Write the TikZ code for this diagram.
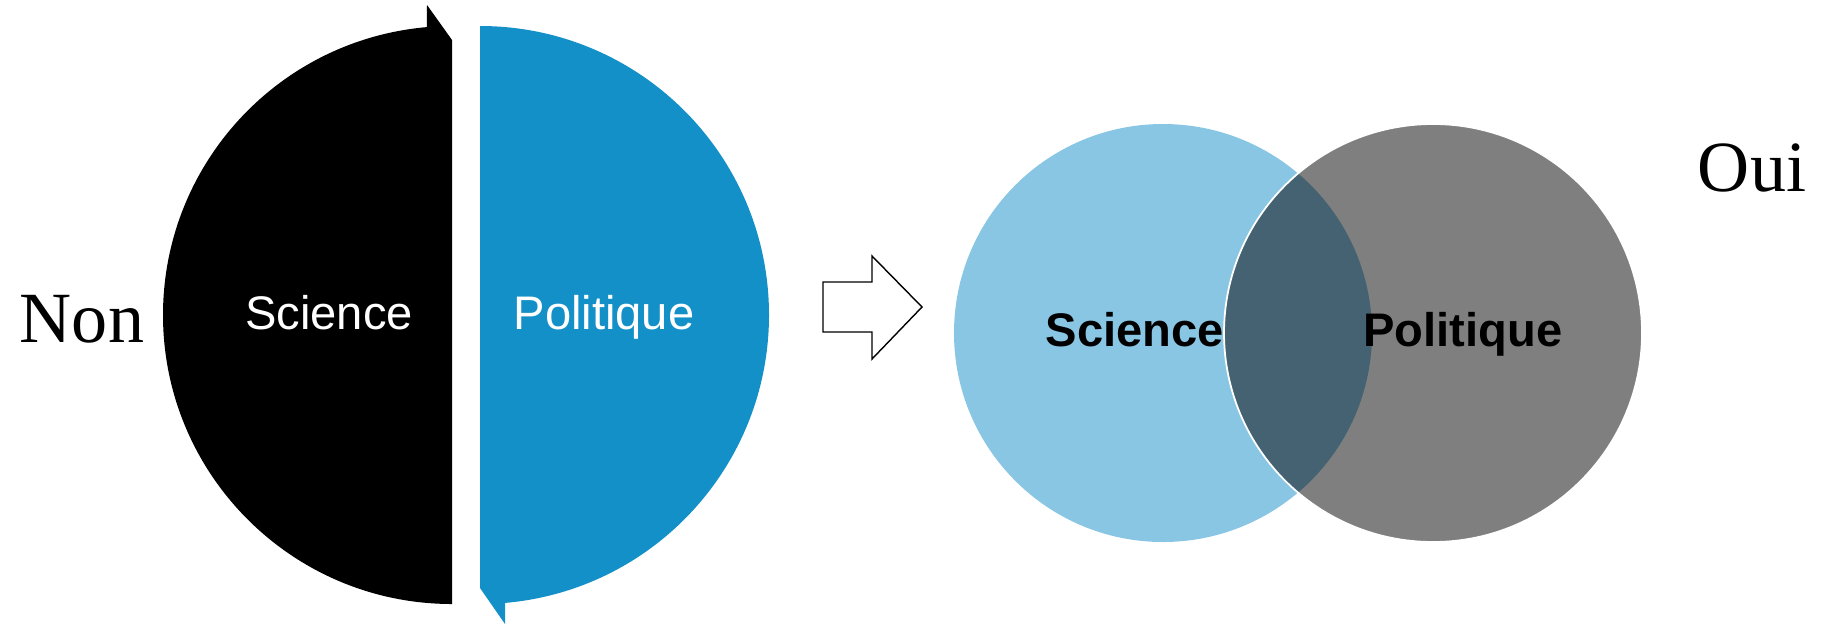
\documentclass[tikz,border=0pt]{standalone}
\usepackage{fontspec}
\setmainfont{Liberation Sans}
\newfontfamily\seriffont{Liberation Serif}
\usetikzlibrary{positioning}
\definecolor{halfblue}{RGB}{20,144,200}
\definecolor{paleblue}{RGB}{137,198,227}
\tikzset{half label/.style={anchor=base,text=white,font=\fontsize{13.4}{16}\selectfont},
venn label/.style={anchor=base,font=\bfseries\fontsize{13.4}{16}\selectfont},
side label/.style={anchor=base,font=\seriffont\fontsize{20.5}{25}\selectfont}}

\begin{document}
\begin{tikzpicture}[x=0.01cm,y=0.01cm]
\useasboundingbox (0,0) rectangle (1822,626);
\fill (452,22) arc[start angle=270,end angle=95,radius=289] -- (427,621) -- (452,586) -- cycle;
\fill[halfblue] (480,600) arc[start angle=90,end angle=-85,radius=289] -- (505,2) -- (480,38) -- cycle;
\node[half label] (science) at (329,297) {Science};
\node[half label] (politique) at (604,297) {Politique};
\node[side label] (non) at (82,284) {Non};
\draw[fill=white] (823,344) -- (872,344) -- (872,370) -- (922,319) -- (872,267) -- (872,294) -- (823,294) -- cycle;
\fill[paleblue] (1163,293) circle[radius=209];
\node[venn label] (science2) at (1135,280) {Science};
\draw[white,line width=0.5pt,fill=black,fill opacity=0.5] (1433,293) circle[radius=209];
\node[venn label] (politique2) at (1463,280) {Politique};
\node[side label] (oui) at (1752,435) {Oui};
\end{tikzpicture}
\end{document}
